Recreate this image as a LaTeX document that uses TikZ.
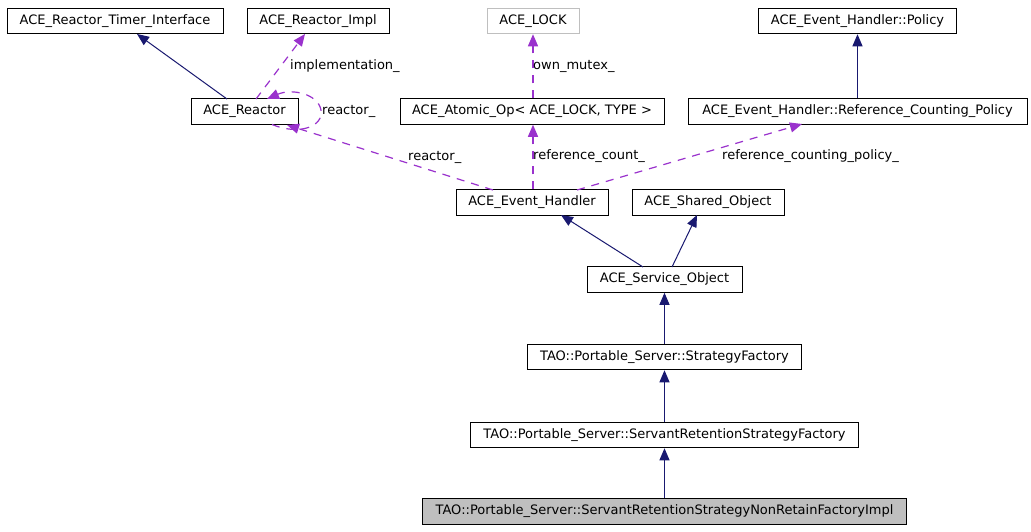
\documentclass[tikz,border=0pt]{standalone}
\usepackage{fontspec}
\setmainfont{DejaVu Sans}
\usetikzlibrary{arrows.meta}
\definecolor{inhcol}{HTML}{191970}
\definecolor{usecol}{HTML}{9A32CD}
\definecolor{boxgray}{HTML}{BFBFBF}
\tikzset{
  cls/.style={draw=black, line width=1pt, inner sep=0pt, minimum height=25.5pt, font=\fontsize{13}{15}\selectfont},
  inh/.style={draw=inhcol, line width=1pt, -{Triangle[length=12pt,width=10pt]}},
  use/.style={draw=usecol, line width=1.2pt, dash pattern=on 8pt off 7pt, -{Triangle[length=12pt,width=10pt]}},
  lbl/.style={font=\fontsize{13}{15}\selectfont, inner sep=0pt, anchor=west}
}
\begin{document}
\begin{tikzpicture}[x=1pt,y=-1pt]
\useasboundingbox (0,0) rectangle (1031,531);
\fill[white] (0,0) rectangle (1031,531);
% nodes
\node[cls, minimum width=216pt] (timer) at (115,21) {ACE\_Reactor\_Timer\_Interface};
\node[cls, minimum width=142pt] (rimpl) at (318,21) {ACE\_Reactor\_Impl};
\node[cls, draw=boxgray, minimum width=92pt] (lock) at (533,21) {ACE\_LOCK};
\node[cls, minimum width=198pt] (policy) at (857.5,21) {ACE\_Event\_Handler::Policy};
\node[cls, minimum width=107pt] (reactor) at (244.5,111.5) {ACE\_Reactor};
\node[cls, minimum width=264pt] (atomic) at (532,111.5) {ACE\_Atomic\_Op< ACE\_LOCK, TYPE >};
\node[cls, minimum width=339pt] (refpol) at (857.5,111.5) {ACE\_Event\_Handler::Reference\_Counting\_Policy};
\node[cls, minimum width=152pt] (eh) at (532,202.5) {ACE\_Event\_Handler};
\node[cls, minimum width=152pt] (shared) at (708,202.5) {ACE\_Shared\_Object};
\node[cls, minimum width=155pt] (service) at (664.5,279.5) {ACE\_Service\_Object};
\node[cls, minimum width=274pt] (strat) at (664.5,357) {TAO::Portable\_Server::StrategyFactory};
\node[cls, minimum width=388pt] (srsf) at (664.5,435) {TAO::Portable\_Server::ServantRetentionStrategyFactory};
\node[cls, fill=boxgray, minimum width=484pt] (final) at (664.5,511.5) {TAO::Portable\_Server::ServantRetentionStrategyNonRetainFactoryImpl};
% coordinates on borders
\coordinate (rtop1) at (227,99);
\coordinate (ttip) at (137,34);
\coordinate (rtop2) at (256,99);
\coordinate (itip) at (305,34);
\coordinate (loopstart) at (272,124.5);
\coordinate (looptip) at (267,99);
\coordinate (ehtopL) at (493,190);
\coordinate (rbottip) at (287,125);
\coordinate (ehtopR) at (577,190);
\coordinate (rptip) at (802,124);
\coordinate (svtopL) at (643,267);
\coordinate (ehbot) at (561,215);
\coordinate (svtopR) at (672,267);
\coordinate (shbot) at (697,215);
% inheritance edges
\draw[inh] (rtop1) -- (ttip);
\draw[inh] (refpol.north -| policy.south) -- (policy.south);
\draw[inh] (svtopL) -- (ehbot);
\draw[inh] (svtopR) -- (shbot);
\draw[inh] (strat.north) -- (strat.north |- service.south);
\draw[inh] (srsf.north) -- (strat.south);
\draw[inh] (final.north) -- (srsf.south);
% usage edges
\draw[use] (rtop2) -- (itip);
\node[lbl] (limpl) at (290,66) {implementation\_};
\draw[use] (loopstart) .. controls (300,136) and (324,126) .. (321,110) .. controls (318,94) and (292,88) .. (looptip);
\node[lbl] (lloop) at (322,111) {reactor\_};
\draw[use] (ehtopL) -- (rbottip);
\node[lbl] (lreact) at (408,157) {reactor\_};
\draw[use] (atomic.north -| lock.south) -- (lock.south);
\node[lbl] (lmutex) at (533,66) {own\_mutex\_};
\draw[use] (eh.north -| lock.south) -- (atomic.south -| lock.south);
\node[lbl] (lcount) at (533,156) {reference\_count\_};
\draw[use] (ehtopR) -- (rptip);
\node[lbl] (lpol) at (722,156) {reference\_counting\_policy\_};
\end{tikzpicture}
\end{document}
